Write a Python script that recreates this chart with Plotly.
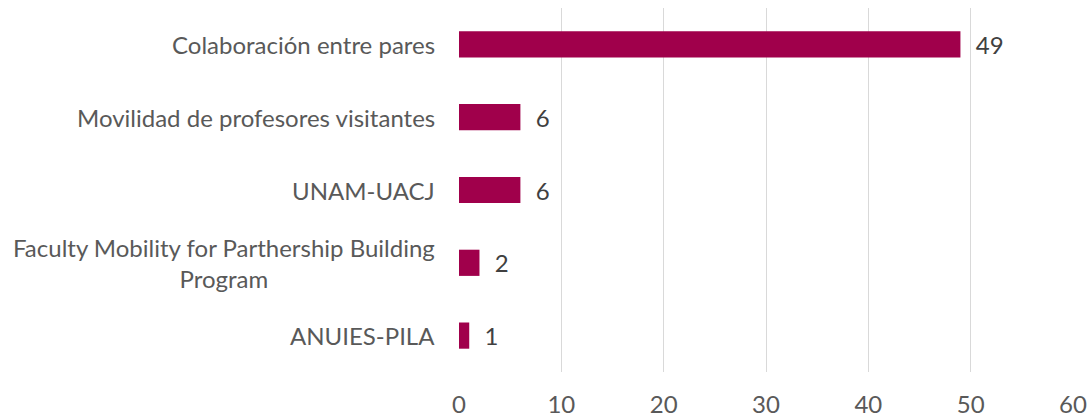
import plotly.graph_objects as go

categories = ["Colaboración entre pares", "Movilidad de profesores visitantes", "UNAM-UACJ",
              "Faculty Mobility for Parthership Building<br>Program", "ANUIES-PILA"]
values = [49, 6, 6, 2, 1]
x_ticks = [0, 10, 20, 30, 40, 50, 60]

fig = go.Figure(go.Bar(
    y=categories, x=values, orientation="h",
    marker=dict(color="#A0004B", line=dict(width=0)),
    text=["\u00a0\u00a0" + str(v) for v in values], textposition="outside",
    textfont=dict(family="Lato", size=24, color="#404040"),
    constraintext="none", cliponaxis=False,
))
for c in categories:
    fig.add_annotation(x=0, xref="paper", y=c, yref="y", text=c, showarrow=False,
                       xanchor="right", align="center", xshift=-22,
                       font=dict(family="Lato", size=24, color="#595959"))
fig.update_layout(
    width=1092, height=417,
    margin=dict(l=459, r=19, t=8, b=45, autoexpand=False),
    paper_bgcolor="white", plot_bgcolor="white",
    font=dict(family="Lato", size=24, color="#595959"),
    bargap=0.64, showlegend=False,
)
fig.update_xaxes(range=[0, 60], tickvals=x_ticks, showgrid=True, gridcolor="#D9D9D9", gridwidth=1,
                 zeroline=False, showline=False, ticks="", ticklabelstandoff=16,
                 tickfont=dict(size=24, color="#595959"))
fig.update_yaxes(categoryorder="array", categoryarray=categories[::-1], showgrid=False,
                 showticklabels=False, showline=False, ticks="")
fig.write_html("out.html", config={"displayModeBar": False},
               post_script="document.body.style.margin='0';document.documentElement.style.overflow='hidden';")
